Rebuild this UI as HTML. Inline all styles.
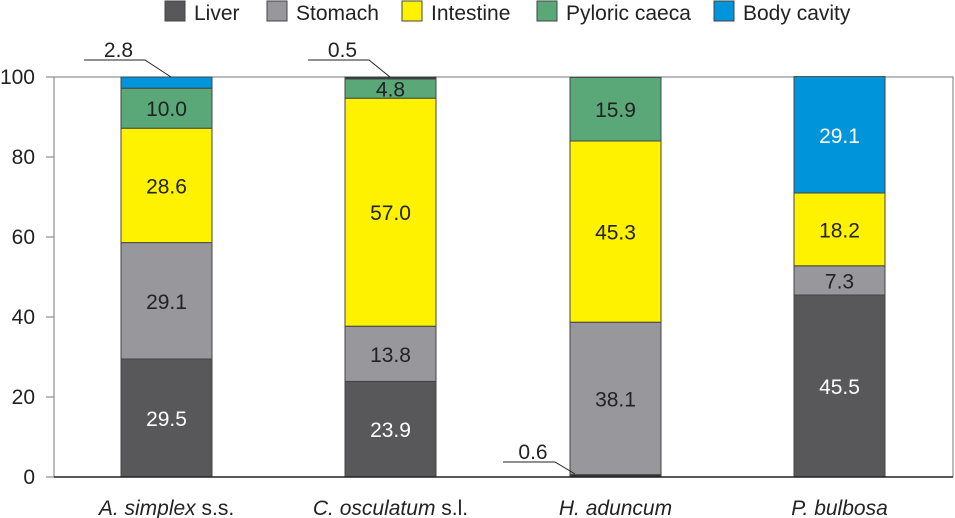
<!DOCTYPE html>
<html><head><meta charset="utf-8"><style>
body{margin:0;background:#fff;}
svg{display:block;font-family:"Liberation Sans",Arial,sans-serif;}
</style></head><body>
<svg id="chart" width="955" height="518" viewBox="0 0 955 518"></svg>
<script>
const categories=["A. simplex","C. osculatum","H. aduncum","P. bulbosa"];
const suffixes=[" s.s."," s.l.","",""];
const liver=[29.5,23.9,0.6,45.5];
const stomach=[29.1,13.8,38.1,7.3];
const intestine=[28.6,57.0,45.3,18.2];
const pyloric=[10.0,4.8,15.9,0];
const bodyCavity=[2.8,0.5,0,29.1];
const yTicks=[0,20,40,60,80,100];
const seriesNames=["Liver","Stomach","Intestine","Pyloric caeca","Body cavity"];

const NS="http://www.w3.org/2000/svg";
const svg=document.getElementById('chart');
function mk(tag,attrs,parent){const e=document.createElementNS(NS,tag);for(const k in attrs)e.setAttribute(k,attrs[k]);(parent||svg).appendChild(e);return e;}
const y0=477,y1=77,axX=54,right=953;
const yS=v=>y0-(v/100)*(y0-y1);
const barL=[121,345,570,794],barW=91;
const xS=i=>barL[i];
const series=[liver,stomach,intestine,pyloric,bodyCavity];
const colors=["#58585a","#98989c","#fff200","#5aa878","#0095da"];
const textCol=["#fff","#222","#222","#222","#fff"];
const keys=["liver","stomach","intestine","pyloric-caeca","body-cavity"];
const FS=21;

let f=mk('polyline',{points:`46,${y1} ${right},${y1} ${right},${y0}`,fill:'none',stroke:'#777','stroke-width':1});

let ya=mk('line',{x1:axX,y1:y1,x2:axX,y2:y0,stroke:'#777','stroke-width':1});

yTicks.forEach(t=>{
  const tk=mk('line',{x1:46,x2:axX,y1:yS(t),y2:yS(t),stroke:'#777'});
  
  const tl=mk('text',{x:35,y:yS(t)+7,'text-anchor':'end','font-size':FS,fill:'#222'});
  tl.textContent=t;
  
});

const small=[];
categories.forEach((c,i)=>{
  let acc=0;
  series.forEach((s,k)=>{
    const v=s[i];if(v<=0)return;
    const top=yS(acc+v),bot=yS(acc);
    const r=mk('rect',{x:xS(i),y:top,width:barW,height:Math.max(bot-top,1),fill:(v<1?'#333':colors[k]),stroke:'#444','stroke-width':1});
    
    if(v>=4){
      const t=mk('text',{x:xS(i)+barW/2,y:(top+bot)/2+8,'text-anchor':'middle','font-size':FS,fill:textCol[k]});
      t.textContent=v.toFixed(1);
      
    } else small.push({i,v,top,bot});
    acc+=v;
  });
});
small.forEach(s=>{
  const atTop=s.bot<y0-200;
  const px=xS(s.i);
  let ly,ax,ay;
  if(atTop){ly=y1-17;ax=px+(s.i===0?50:45);ay=y1;}
  else{ly=y0-15;ax=px+5;ay=y0-3;}
  const lx1=px-(atTop?37:67),lx2=px+(atTop?24:-15);
  const p=mk('polyline',{points:`${lx1},${ly} ${lx2},${ly} ${ax},${ay}`,fill:'none',stroke:'#222','stroke-width':1});
  
  const t=mk('text',{x:(lx1+lx2)/2+4,y:ly-3,'text-anchor':'middle','font-size':FS,fill:'#222'});
  t.textContent=s.v.toFixed(1);
  
});
let xa=mk('line',{x1:axX,y1:y0,x2:right,y2:y0,stroke:'#222','stroke-width':1.5});

categories.forEach((c,i)=>{
  const t=mk('text',{x:xS(i)+barW/2,y:515,'text-anchor':'middle','font-size':FS,fill:'#222'});
  const a=mk('tspan',{'font-style':'italic'},t);a.textContent=c;
  if(suffixes[i]){const b=mk('tspan',{},t);b.textContent=suffixes[i];}
  
});
const legBox=[165,267,402,537,714];
seriesNames.forEach((n,k)=>{
  const g=mk('g',{});
  
  mk('rect',{x:legBox[k],y:1,width:20,height:20,fill:colors[k],stroke:'#444'},g);
  const t=mk('text',{x:legBox[k]+29,y:20,'font-size':FS,fill:'#222'},g);t.textContent=n;
});
</script>
</body></html>
